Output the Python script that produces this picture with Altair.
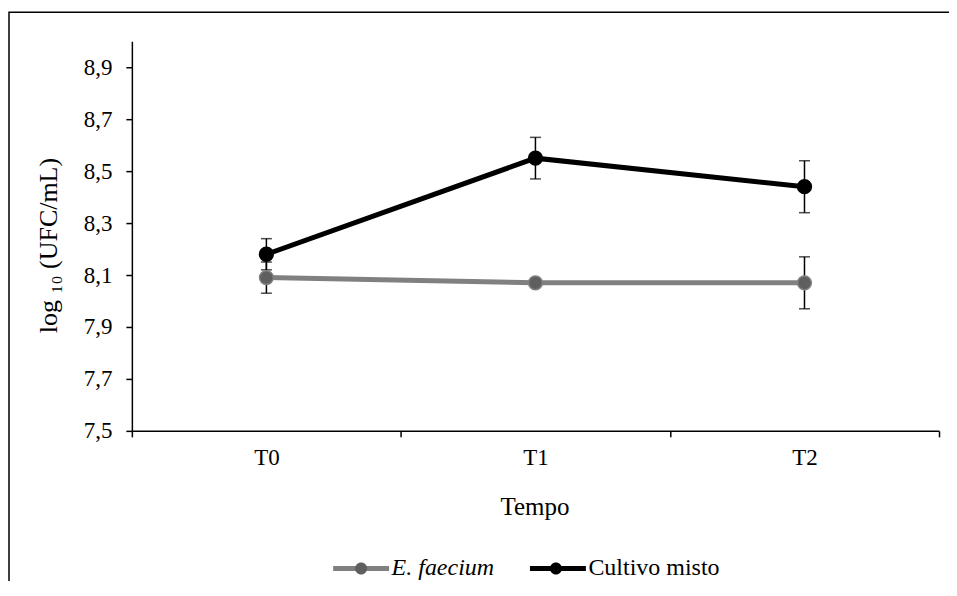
import altair as alt
import pandas as pd

# ---- data ----
tempos = ["T0", "T1", "T2"]
series = ["E. faecium", "Cultivo misto"]
ef_mean = [8.09, 8.07, 8.07]
ef_err = [0.06, 0.01, 0.10]
cm_mean = [8.18, 8.55, 8.44]
cm_err = [0.06, 0.08, 0.10]
y_ticks = [7.5, 7.7, 7.9, 8.1, 8.3, 8.5, 8.7, 8.9]
y_domain = [7.5, 9.0]

line_colors = ["#808080", "#000000"]
marker_colors = ["#5f5f5f", "#000000"]

rows = []
for s, means, errs in [(series[0], ef_mean, ef_err), (series[1], cm_mean, cm_err)]:
    for t, m, e in zip(tempos, means, errs):
        rows.append({"tempo": t, "serie": s, "serie2": s, "media": m,
                     "lo": round(m - e, 3), "hi": round(m + e, 3)})
df = pd.DataFrame(rows)

FONT = "Liberation Serif, Times New Roman, serif"
W, H = 808, 390

x_enc = alt.X(
    "tempo:N", sort=tempos, bandPosition=0.5,
    scale=alt.Scale(type="band", domain=tempos, paddingInner=0, paddingOuter=0),
    axis=alt.Axis(
        title="Tempo", tickBand="extent", labelAngle=0,
        labelFont=FONT, labelFontSize=23, labelColor="black",
        labelBaseline="middle", labelPadding=21,
        tickSize=6, tickColor="black", tickWidth=1.5,
        domainColor="black", domainWidth=1.5,
        titleFont=FONT, titleFontSize=25, titleFontWeight="normal", titleColor="black",
        titleX=W / 2 - 1, titleY=76, titleBaseline="middle",
    ),
)
y_scale = alt.Scale(domain=y_domain, nice=False, zero=False)
y_axis = alt.Axis(
    title="log ₁₀ (UFC/mL)", values=y_ticks, grid=False,
    labelExpr="replace(format(datum.value, '.1f'), '.', ',')",
    labelFont=FONT, labelFontSize=23, labelColor="black", labelPadding=14,
    tickSize=6, tickColor="black", tickWidth=1.5,
    domainColor="black", domainWidth=1.5,
    titleFont=FONT, titleFontSize=26, titleFontWeight="normal", titleColor="black",
    titleX=-83, titleY=204, titleBaseline="middle", titleAngle=-90,
)

italic_expr = alt.ExprRef(expr="datum.value == 'E. faecium' ? 'italic' : 'normal'")

line_legend = alt.Legend(
    title=None, orient="none", direction="horizontal", legendX=199, legendY=497,
    symbolType="M-1,0L1,0", symbolSize=3136, symbolStrokeWidth=5,
    labelFont=FONT, labelFontSize=24, labelColor="black", labelOffset=0,
    labelFontStyle=italic_expr,
    columnPadding=25, padding=0, zindex=0,
)
# marker-only legend overlaid on the line legend (no text of its own)
dot_legend = alt.Legend(
    title=None, orient="none", direction="horizontal", legendX=199, legendY=497,
    symbolType="M-0.215,0A0.215,0.215,0,1,1,0.215,0A0.215,0.215,0,1,1,-0.215,0Z",
    symbolSize=3136, symbolStrokeWidth=5, symbolStrokeColor="transparent",
    labelFont=FONT, labelFontSize=24, labelOffset=0, labelExpr="''",
    columnPadding=134, padding=0, zindex=1,
)

stroke_enc = alt.Stroke("serie:N", sort=series,
                        scale=alt.Scale(domain=series, range=line_colors),
                        legend=line_legend)

base = alt.Chart(df)

lines = base.mark_line(strokeWidth=5).encode(
    x=x_enc, y=alt.Y("media:Q", scale=y_scale, axis=y_axis),
    stroke=stroke_enc, order=alt.Order("tempo:N"),
)
err_rule = base.mark_rule(color="black", strokeWidth=1.5).encode(
    x=x_enc, y=alt.Y("lo:Q", scale=y_scale), y2="hi:Q",
)
err_lo = base.mark_tick(color="black", orient="horizontal", size=11, thickness=1.5).encode(
    x=x_enc, y=alt.Y("lo:Q", scale=y_scale),
)
err_hi = base.mark_tick(color="black", orient="horizontal", size=11, thickness=1.5).encode(
    x=x_enc, y=alt.Y("hi:Q", scale=y_scale),
)
points = base.mark_point(filled=True, size=190, opacity=1, strokeWidth=1.5).encode(
    x=x_enc, y=alt.Y("media:Q", scale=y_scale),
    fill=alt.Fill("serie2:N", sort=series, scale=alt.Scale(range=marker_colors),
                  legend=dot_legend),
    stroke=stroke_enc,
)

border = alt.Chart(pd.DataFrame({"b": [0]})).mark_rect(
    filled=False, stroke="black", strokeWidth=1.5
).encode(
    x=alt.value(-123), x2=alt.value(W + 60), y=alt.value(-29), y2=alt.value(H + 300)
)

chart = alt.layer(border, lines, err_rule, err_lo, err_hi, points).properties(
    width=W, height=H,
    padding={"left": 124, "top": 33, "right": 10, "bottom": 150},
    autosize=alt.AutoSizeParams(type="none"),
).configure(background="white", view=alt.ViewConfig(stroke=None))

chart.save("out.html", embed_options={"renderer": "svg", "actions": False})
